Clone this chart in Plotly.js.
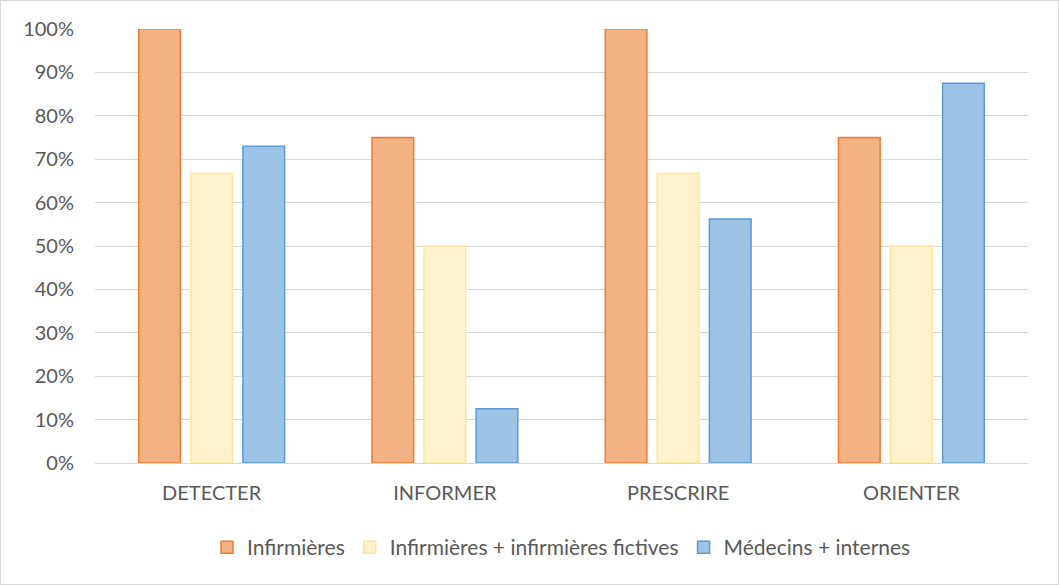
<!DOCTYPE html>
<html>
<head>
<meta charset="utf-8">
<script src="https://cdn.plot.ly/plotly-3.0.1.min.js"></script>
<style>
  html, body { margin: 0; padding: 0; background: #fff; }
  #chart { width: 1057px; height: 583px; border: 1px solid #d9d9d9; }
</style>
</head>
<body>
<div id="chart"></div>
<script>
const categories = ["DETECTER", "INFORMER", "PRESCRIRE", "ORIENTER"];
const infirmieres = [1.00, 0.75, 1.00, 0.75];
const infirmieresFictives = [0.667, 0.50, 0.667, 0.50];
const medecinsInternes = [0.73, 0.125, 0.5625, 0.875];
const seriesNames = ["Infirmières", "Infirmières + infirmières fictives", "Médecins + internes"];

const fills = ["#F4B183", "#FFF2CC", "#9DC3E6"];
const lines = ["#ED7D31", "#FFE699", "#5B9BD5"];
const values = [infirmieres, infirmieresFictives, medecinsInternes];

const traces = values.map((v, i) => ({
  type: "bar",
  name: seriesNames[i],
  x: categories,
  y: v,
  marker: { color: fills[i], line: { color: lines[i], width: 1.5 } },
  hoverinfo: "x+y+name"
}));

const layout = {
  width: 1057,
  height: 583,
  margin: { l: 94, r: 30, t: 28, b: 121 },
  paper_bgcolor: "#ffffff",
  plot_bgcolor: "#ffffff",
  font: { family: "Lato, 'Open Sans', sans-serif", color: "#595959", size: 20 },
  barmode: "group",
  bargap: 0.33,
  bargroupgap: 0.2,
  xaxis: {
    showgrid: false,
    showline: true,
    linecolor: "#d9d9d9",
    linewidth: 1,
    ticks: "",
    tickfont: { size: 20, color: "#595959" },
    ticklabelstandoff: 12
  },
  yaxis: {
    range: [0, 1],
    dtick: 0.1,
    tickformat: ".0%",
    showgrid: true,
    gridcolor: "#d9d9d9",
    gridwidth: 1,
    zeroline: false,
    showline: false,
    ticks: "",
    tickfont: { size: 20, color: "#595959" },
    ticklabelstandoff: 20
  },
  showlegend: true,
  legend: {
    orientation: "h",
    x: 0.5,
    xanchor: "center",
    y: -0.195,
    yanchor: "middle",
    font: { size: 21, color: "#595959" },
    traceorder: "normal",
    itemwidth: 30
  }
};

Plotly.newPlot("chart", traces, layout, { displayModeBar: false, staticPlot: true });
</script>
</body>
</html>
